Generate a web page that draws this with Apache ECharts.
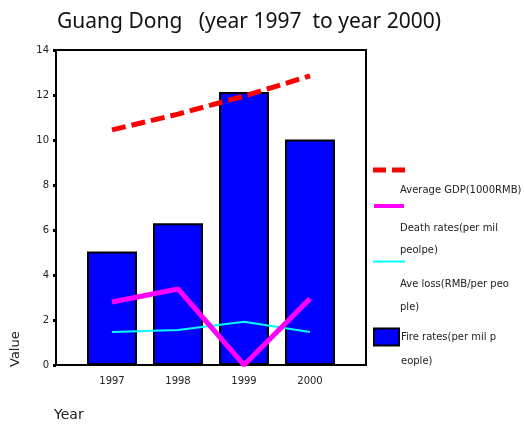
<!DOCTYPE html>
<html><head><meta charset="utf-8">
<script src="https://cdn.jsdelivr.net/npm/echarts@6/dist/echarts.min.js"></script>
<style>html,body{margin:0;padding:0;background:#fff}#c{width:524px;height:425px}</style>
</head><body><div id="c"></div>
<script>
var years = ['1997', '1998', '1999', '2000'];
var gdp = [10.45, 11.15, 11.95, 12.85];
var deathRates = [2.8, 3.38, 0.0, 2.95];
var aveLoss = [1.47, 1.56, 1.92, 1.47];
var fireRates = [5.05, 6.3, 12.13, 10.02];
var yTicks = {min: 0, max: 14, interval: 2};
var seriesNames = ['Average GDP(1000RMB)', 'Death rates(per mil\npeolpe)', 'Ave loss(RMB/per peo\nple)', 'Fire rates(per mil p\neople)'];

var F = "'DejaVu Sans', sans-serif";
var chart = echarts.init(document.getElementById('c'));
function leg(name, top, left, blank, lh, icon, iw, ih, padL) {
  return {
    data: [name], top: top, left: left, padding: 0, orient: 'vertical',
    itemWidth: iw, itemHeight: ih, selectedMode: false, icon: icon,
    itemStyle: {borderWidth: 0},
    formatter: function (n) { return new Array(blank + 1).join('\n') + n; },
    textStyle: {fontSize: 10, fontFamily: F, color: '#222', lineHeight: lh, padding: [0, 0, 0, padL]}
  };
}
chart.setOption({
  animation: false,
  title: {text: 'Guang Dong   (year 1997  to year 2000)', left: 52, top: 7,
    textStyle: {fontSize: 21, fontWeight: 'normal', fontFamily: "'Noto Sans', sans-serif", color: '#111'}},
  legend: [
    leg(seriesNames[0], 140, 373, 2, 20, 'path://M0,0h13v5h-13zM19,0h13v5h-13z', 32, 5, -10),
    leg(seriesNames[1], 151, 374, 3, 22, 'rect', 30, 4, -9),
    leg(seriesNames[2], 204, 373, 3, 23, 'rect', 32, 2, -10),
    (function () {
      var o = leg(seriesNames[3], 301, 373, 1, 24, 'rect', 25, 17, -3);
      o.itemStyle = {borderColor: '#000', borderWidth: 2};
      return o;
    })()
  ],
  grid: [
    {left: 56, right: 158, top: 50, bottom: 60, show: true, borderColor: '#000', borderWidth: 2},
    {left: 79, right: 181, top: 50, bottom: 60}
  ],
  xAxis: [
    {gridIndex: 0, type: 'value', show: false},
    {gridIndex: 1, type: 'category', data: years, axisLine: {show: false}, axisTick: {show: false},
      axisLabel: {fontSize: 10, fontFamily: F, color: '#222', margin: 11}}
  ],
  yAxis: [
    {gridIndex: 0, type: 'value', min: yTicks.min, max: yTicks.max, interval: yTicks.interval,
      splitLine: {show: false},
      axisLine: {show: true, lineStyle: {color: '#000', width: 2}},
      axisTick: {show: true, length: 3, lineStyle: {color: '#000', width: 3}},
      axisLabel: {fontSize: 10, fontFamily: F, color: '#222', margin: 7}},
    {gridIndex: 1, type: 'value', min: yTicks.min, max: yTicks.max, interval: yTicks.interval, show: false}
  ],
  series: [
    {name: seriesNames[3], type: 'bar', xAxisIndex: 1, yAxisIndex: 1, data: fireRates,
      barWidth: 50, itemStyle: {color: '#0000ff', borderColor: '#000', borderWidth: 2}},
    {name: seriesNames[2], type: 'line', xAxisIndex: 1, yAxisIndex: 1, data: aveLoss,
      symbol: 'none', lineStyle: {color: '#00ffff', width: 2}, itemStyle: {color: '#00ffff'}, z: 3},
    {name: seriesNames[1], type: 'line', xAxisIndex: 1, yAxisIndex: 1, data: deathRates,
      symbol: 'none', lineStyle: {color: '#ff00ff', width: 5}, itemStyle: {color: '#ff00ff'}, z: 4},
    {name: seriesNames[0], type: 'line', xAxisIndex: 1, yAxisIndex: 1, data: gdp,
      symbol: 'none', lineStyle: {color: '#ff0000', width: 5, type: [14, 6]}, itemStyle: {color: '#ff0000'}, z: 5}
  ],
  graphic: [
    {type: 'text', left: 54, top: 408, style: {text: 'Year', fontSize: 14, fontFamily: F, fill: '#222', letterSpacing: 1.5}},
    {type: 'text', x: 9, y: 367, rotation: Math.PI / 2, style: {text: 'Value', fontSize: 13, fontFamily: F, fill: '#222'}}
  ]
});
</script></body></html>
